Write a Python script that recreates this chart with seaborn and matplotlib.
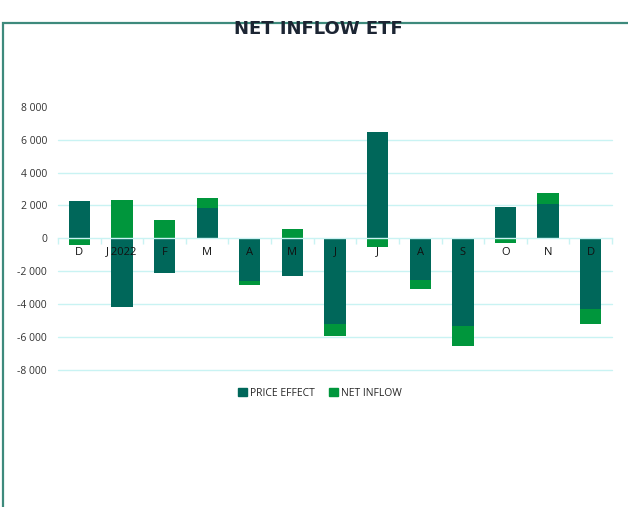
import numpy as np
import pandas as pd
import matplotlib
matplotlib.use('Agg')
import matplotlib.pyplot as plt
from matplotlib.patches import Patch, Rectangle
from matplotlib.ticker import FuncFormatter, FixedLocator
import seaborn as sns

# ── Data ────────────────────────────────────────────────────────────────────
months       = ['D', 'J 2022', 'F', 'M', 'A', 'M', 'J', 'J', 'A', 'S', 'O', 'N', 'D']
price_effect = [2300, -4170, -2100, 1870, -2600, -2280, -5230, 6480, -2540, -5350, 1910, 2110, -4310]
net_inflow   = [-400, 2350, 1120, 590, -230, 570, -710, -510, -530, -1200, -270, 650, -900]
yticks       = [-8000, -6000, -4000, -2000, 0, 2000, 4000, 6000, 8000]

DARK  = '#00675a'
GREEN = '#00963c'
GRID  = '#c9f3f3'
BOX   = '#3e8a7c'

pe = np.array(price_effect)
ni = np.array(net_inflow)
# Excel-style stacking: positives stack on positives, negatives on negatives
ni_bottom = np.where(np.sign(ni) == np.sign(pe), pe, 0)

df = pd.DataFrame({'idx': range(len(months)), 'pe': pe, 'ni': ni, 'ni_bottom': ni_bottom})

sns.set_theme(style='white')
plt.rcParams['font.family'] = ['Open Sans', 'DejaVu Sans']

fig = plt.figure(figsize=(6.28, 5.07), dpi=100)
ax = fig.add_axes([58 / 628, 1 - 369.5 / 507, (612 - 58) / 628, (369.5 - 107) / 507])

sns.barplot(data=df, x='idx', y='pe', color=DARK, width=0.5, saturation=1,
            linewidth=0, ax=ax)
sns.barplot(data=df, x='idx', y='ni', bottom=df['ni_bottom'].values, color=GREEN,
            width=0.5, saturation=1, linewidth=0, ax=ax)

ax.set_ylim(-8000, 8000)
ax.set_xlim(-0.5, len(months) - 0.5)
ax.set_xlabel('')
ax.set_ylabel('')

# gridlines behind the bars (no line at the top tick)
for v in yticks:
    if v not in (0, 8000):
        ax.axhline(v, color=GRID, linewidth=1, zorder=0, clip_on=False)

# y axis
ax.yaxis.set_major_locator(FixedLocator(yticks))
ax.yaxis.set_major_formatter(FuncFormatter(lambda v, p: f'{int(v):,}'.replace(',', ' ')))
ax.tick_params(axis='y', length=0, labelsize=7.5, labelcolor='#333333', pad=8)
ax.set_axisbelow(False)

# x axis on the zero line, drawn over the bars
for s in ['top', 'right', 'left']:
    ax.spines[s].set_visible(False)
ax.spines['bottom'].set_position(('data', 0))
ax.spines['bottom'].set_color(GRID)
ax.spines['bottom'].set_linewidth(1)
ax.spines['bottom'].set_zorder(3)
ax.set_xticks(range(len(months)))
ax.set_xticklabels(months)
ax.set_xticks(np.arange(-0.5, len(months), 1), minor=True)
ax.tick_params(axis='x', which='major', length=0, labelsize=8, labelcolor='#111111', pad=6)
ax.tick_params(axis='x', which='minor', length=4, color=GRID, width=1, bottom=True)

# title
fig.text(318 / 628, 1 - 29 / 507, 'NET INFLOW ETF', ha='center', va='center',
         fontsize=13, fontweight='bold', color='#1c2533', family='DejaVu Sans')

# legend
handles = [Patch(color=DARK, label='PRICE EFFECT'), Patch(color=GREEN, label='NET INFLOW')]
fig.legend(handles=handles, loc='center', bbox_to_anchor=(320 / 628, 1 - 393 / 507),
           ncol=2, frameon=False, fontsize=7.5, handlelength=0.8, handleheight=0.8,
           handletextpad=0.3, columnspacing=1.4)

# outer frame (top and left edges visible)
fig.add_artist(Rectangle((3.5 / 628, -0.1), 1.2, 1 - 22.5 / 507 + 0.1,
                         transform=fig.transFigure, fill=False,
                         edgecolor=BOX, linewidth=1.6))

plt.savefig('out.png', dpi=100)
plt.close()
